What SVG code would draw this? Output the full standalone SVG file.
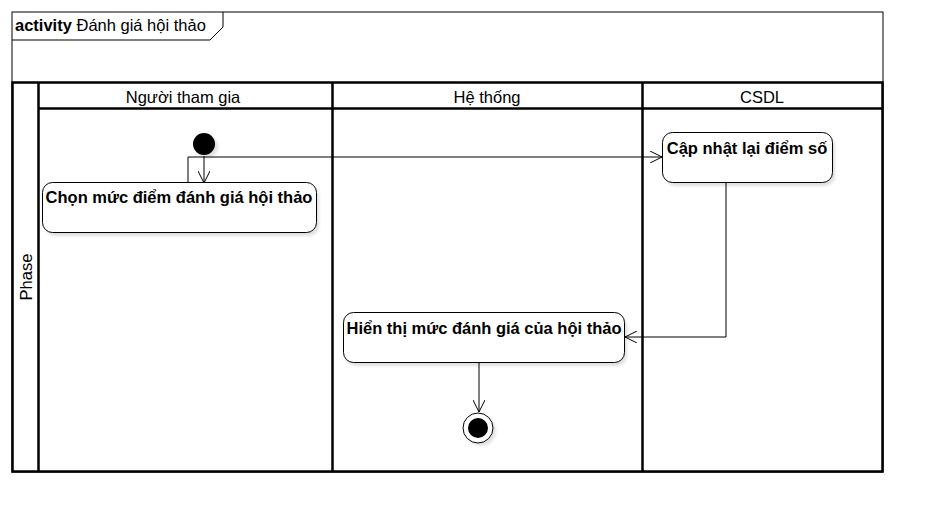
<svg xmlns="http://www.w3.org/2000/svg" width="932" height="522" viewBox="0 0 932 522">
<style>
text{font-family:"Liberation Sans",Arial,sans-serif;font-size:16.5px;fill:#000}
.b{font-weight:bold}
.thin{fill:none;stroke:#000;stroke-width:1}
.thick{fill:none;stroke:#000;stroke-width:2.5}
.act{fill:#fff;stroke:#000;stroke-width:1}
.sh{fill:#000;opacity:0.12}
.c{fill:none;stroke:#000;stroke-width:1}
</style>
<defs>
<marker id="a" markerWidth="14" markerHeight="12" refX="12" refY="6" orient="auto" markerUnits="userSpaceOnUse">
<path d="M0,0 L12,6 L0,12" fill="none" stroke="#000" stroke-width="1"/>
</marker>
<filter id="blur" x="-10%" y="-20%" width="120%" height="140%"><feGaussianBlur stdDeviation="1.5"/></filter>
</defs>
<rect width="932" height="522" fill="#fff"/>
<g id="frame">
<rect class="thin" x="12" y="12" width="871" height="460"/>
<path class="thin" d="M12,40 H210 L223,27 V12"/>
<text x="15" y="31"><tspan class="b">activity</tspan> Đánh giá hội thảo</text>
</g>
<g id="pool">
<rect class="thick" x="12.5" y="82.5" width="870" height="389"/>
<line class="thick" x1="38.5" y1="82.5" x2="38.5" y2="471.5"/>
<line class="thick" x1="332.5" y1="82.5" x2="332.5" y2="471.5"/>
<line class="thick" x1="642.5" y1="82.5" x2="642.5" y2="471.5"/>
<line class="thick" x1="38.5" y1="108.5" x2="882.5" y2="108.5"/>
<text x="27" y="277" text-anchor="middle" transform="rotate(-90 27 277)" dy="5">Phase</text>
<text x="183" y="103" text-anchor="middle">Người tham gia</text>
<text x="487" y="103" text-anchor="middle">Hệ thống</text>
<text x="762" y="103" text-anchor="middle">CSDL</text>
</g>
<g id="connectors">
<path class="c" d="M204,156 V183" marker-end="url(#a)"/>
<path class="c" d="M188,182 V157 H662" marker-end="url(#a)"/>
<path class="c" d="M726,182 V337 H625" marker-end="url(#a)"/>
<path class="c" d="M479,362 V412" marker-end="url(#a)"/>
</g>
<g id="start">
<circle cx="207" cy="147" r="11" class="sh" filter="url(#blur)"/>
<circle cx="204" cy="144" r="11" fill="#000"/>
</g>
<g id="chon">
<rect x="45" y="186" width="274" height="50" rx="10" class="sh" filter="url(#blur)"/>
<rect x="42.5" y="182.5" width="274" height="50" rx="10" class="act"/>
<text x="179" y="203" text-anchor="middle" class="b">Chọn mức điểm đánh giá hội thảo</text>
</g>
<g id="capnhat">
<rect x="665" y="136" width="170" height="50" rx="10" class="sh" filter="url(#blur)"/>
<rect x="662.5" y="132.5" width="170" height="50" rx="10" class="act"/>
<text x="747" y="154" text-anchor="middle" class="b">Cập nhật lại điểm số</text>
</g>
<g id="hienthi">
<rect x="346" y="316" width="281" height="50" rx="10" class="sh" filter="url(#blur)"/>
<rect x="343.5" y="312.5" width="281" height="50" rx="10" class="act"/>
<text x="484" y="334" text-anchor="middle" class="b">Hiển thị mức đánh giá của hội thảo</text>
</g>
<g id="end">
<circle cx="481" cy="431" r="15" class="sh" filter="url(#blur)"/>
<circle cx="478" cy="428" r="15" fill="#fff" stroke="#000" stroke-width="1"/>
<circle cx="478" cy="428" r="10" fill="#000"/>
</g>
</svg>
